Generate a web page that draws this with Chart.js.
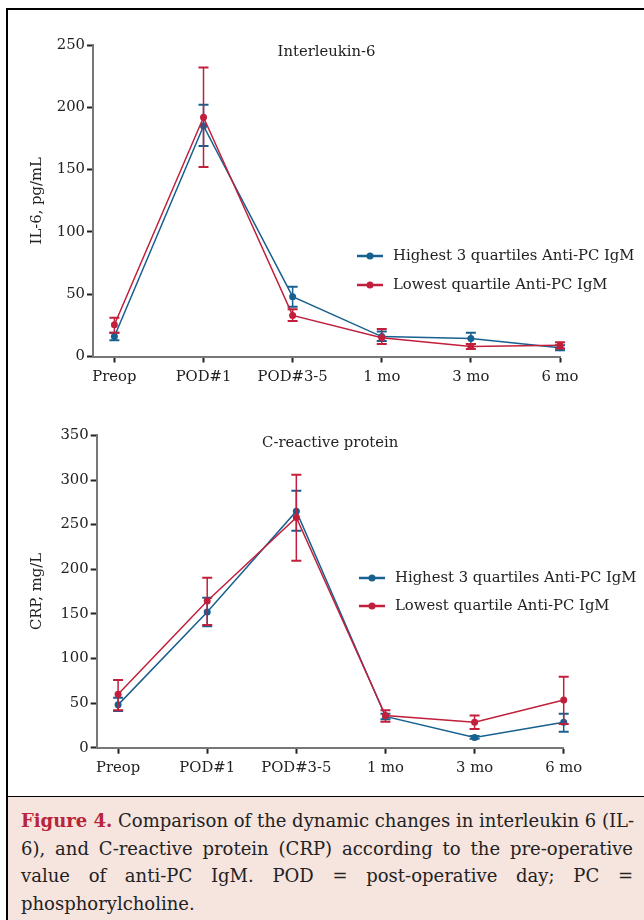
<!DOCTYPE html>
<html>
<head>
<meta charset="utf-8">
<script src="https://cdn.jsdelivr.net/npm/chart.js@4.4.0/dist/chart.umd.min.js"></script>
<style>
    html, body { margin: 0; padding: 0; background: #fff; overflow: hidden; }
    body { width: 644px; height: 920px; position: relative; }
    #frame {
        position: absolute; left: 6px; top: 8px; width: 660px; height: 786px;
        border: 2px solid #000;
    }
    canvas { position: absolute; left: 0; }
    #caption {
        position: absolute; left: 6px; top: 797px; width: 660px; height: 140px;
        background: #f6e4df; border-left: 2px solid #000;
        font-family: 'DejaVu Serif', serif; font-size: 18px; color: #222;
        line-height: 27.5px; box-sizing: border-box; padding: 10px 0 0 13px;
    }
    #caption .ln { display: block; width: 612px; text-align: justify; text-align-last: justify; white-space: nowrap; }
    #caption .ln.last { text-align-last: left; }
    #caption b { color: #b8243a; }
</style>
</head>
<body>
<div id="frame"></div>
<canvas id="il6" width="644" height="400" style="top:0"></canvas>
<canvas id="crp" width="644" height="395" style="top:400px"></canvas>
<div id="caption">
    <span class="ln"><b>Figure 4.</b> Comparison of the dynamic changes in interleukin 6 (IL-</span>
    <span class="ln">6), and C-reactive protein (CRP) according to the pre-operative</span>
    <span class="ln">value of anti-PC IgM. POD = post-operative day; PC =</span>
    <span class="ln last">phosphorylcholine.</span>
</div>
<script>
// time points
const labels = ['Preop', 'POD#1', 'POD#3-5', '1 mo', '3 mo', '6 mo'];
const seriesNames = ['Highest 3 quartiles Anti-PC IgM', 'Lowest quartile Anti-PC IgM'];

// IL-6, pg/mL (mean with lower / upper error)
const il6High = [16, 185, 48, 16, 14.5, 7];
const il6HighLo = [13, 169, 40, 12.5, 10, 5];
const il6HighHi = [19, 202, 56, 20, 19, 9];
const il6Low = [25.5, 192, 33, 15, 8, 9];
const il6LowLo = [19, 152, 28.5, 10, 6, 6.5];
const il6LowHi = [31, 232, 38, 22, 10, 11.5];

// CRP, mg/L
const crpHigh = [48, 152, 265, 35, 11.5, 28.5];
const crpHighLo = [41, 136, 243, 32, 10, 18];
const crpHighHi = [56, 168, 288, 38, 13, 38];
const crpLow = [60, 164.5, 258, 36, 28.5, 53.5];
const crpLowLo = [42, 137.5, 209.5, 29, 21, 26.5];
const crpLowHi = [76, 190.5, 306, 42, 36, 79.5];

const BLUE = '#17608f';
const RED = '#c11f3b';
const FONT = "'DejaVu Serif', serif";
const SIZE = 14.8;
const INK = '#222';

// error bars, panel title and inline legend
const decorations = {
    id: 'decorations',
    afterDatasetDraw(chart, args) {
        const ds = chart.data.datasets[args.index];
        const { x, y } = chart.scales;
        const ctx = chart.ctx;
        ctx.save();
        ctx.strokeStyle = ds.borderColor;
        ds.data.forEach((pt, i) => {
            const px = x.getPixelForValue(pt.x);
            const top = y.getPixelForValue(ds.errHi[i]);
            const bot = y.getPixelForValue(ds.errLo[i]);
            ctx.lineWidth = 1.5;
            ctx.beginPath();
            ctx.moveTo(px, top);
            ctx.lineTo(px, bot);
            ctx.stroke();
            ctx.lineWidth = 2;
            ctx.beginPath();
            ctx.moveTo(px - 5, top); ctx.lineTo(px + 5, top);
            ctx.moveTo(px - 5, bot); ctx.lineTo(px + 5, bot);
            ctx.stroke();
        });
        ctx.restore();
    },
    afterDraw(chart, args, opts) {
        const ctx = chart.ctx;
        const area = chart.chartArea;
        ctx.save();
        ctx.fillStyle = INK;
        ctx.font = SIZE + 'px ' + FONT;
        ctx.textAlign = 'center';
        ctx.textBaseline = 'middle';
        ctx.fillText(opts.title, (area.left + area.right) / 2, area.top + opts.titleDy);

        // legend keeps the dataset order of the figure (blue first)
        ctx.textAlign = 'left';
        const sets = chart.data.datasets.slice().sort((a, b) => b.order - a.order);
        sets.forEach((ds, i) => {
            const ly = opts.legendY + i * opts.legendGap;
            ctx.strokeStyle = ds.borderColor;
            ctx.fillStyle = ds.borderColor;
            ctx.lineWidth = 2.5;
            ctx.beginPath();
            ctx.moveTo(opts.legendX, ly);
            ctx.lineTo(opts.legendX + 26, ly);
            ctx.stroke();
            ctx.beginPath();
            ctx.arc(opts.legendX + 13, ly, 3.5, 0, Math.PI * 2);
            ctx.fill();
            ctx.fillStyle = INK;
            ctx.fillText(ds.label, opts.legendX + 36, ly);
        });
        ctx.restore();
    },
};

function series(label, values, lo, hi, color, order) {
    return {
        label,
        data: values.map((v, i) => ({ x: i, y: v })),
        errLo: lo,
        errHi: hi,
        order,
        clip: false,
        borderColor: color,
        backgroundColor: color,
        borderWidth: 1.5,
        pointRadius: 3.5,
        pointBorderWidth: 0,
        tension: 0,
    };
}

function makeChart(id, setup) {
    return new Chart(document.getElementById(id), {
        type: 'line',
        data: {
            datasets: [
                series(seriesNames[0], setup.high, setup.highLo, setup.highHi, BLUE, 1),
                series(seriesNames[1], setup.low, setup.lowLo, setup.lowHi, RED, 0),
            ],
        },
        options: {
            responsive: false,
            animation: false,
            layout: { padding: { left: 0, top: setup.top, right: setup.right, bottom: 0 } },
            plugins: {
                legend: { display: false },
                tooltip: { enabled: false },
                decorations: setup.deco,
            },
            scales: {
                x: {
                    type: 'linear',
                    min: -0.24,
                    max: labels.length - 1,
                    afterBuildTicks: (s) => { s.ticks = labels.map((_, i) => ({ value: i })); },
                    afterFit: (s) => { s.height = setup.xHeight; },
                    ticks: {
                        callback: (v) => labels[v],
                        color: INK,
                        font: { family: FONT, size: SIZE },
                        padding: 6,
                        maxRotation: 0,
                    },
                    grid: { drawOnChartArea: false, tickLength: 6, tickColor: INK, tickWidth: 2 },
                    border: { color: '#777', width: 2 },
                },
                y: {
                    min: 0,
                    max: setup.max,
                    afterFit: (s) => { s.width = setup.yWidth; },
                    ticks: {
                        stepSize: 50,
                        color: INK,
                        font: { family: FONT, size: SIZE },
                        padding: 2,
                    },
                    title: {
                        display: true,
                        text: setup.yTitle,
                        color: INK,
                        font: { family: FONT, size: SIZE },
                        padding: { top: 28, bottom: 0 },
                    },
                    grid: { drawOnChartArea: false, tickLength: 6, tickColor: INK, tickWidth: 2 },
                    border: { color: '#777', width: 2 },
                },
            },
        },
        plugins: [decorations],
    });
}

makeChart('il6', {
    high: il6High, highLo: il6HighLo, highHi: il6HighHi,
    low: il6Low, lowLo: il6LowLo, lowHi: il6LowHi,
    max: 250, yTitle: 'IL-6, pg/mL',
    top: 45, right: 84, yWidth: 93, xHeight: 43.5,
    deco: { title: 'Interleukin-6', titleDy: 7, legendX: 357, legendY: 256, legendGap: 29 },
});

makeChart('crp', {
    high: crpHigh, highLo: crpHighLo, highHi: crpHighHi,
    low: crpLow, lowLo: crpLowLo, lowHi: crpLowHi,
    max: 350, yTitle: 'CRP, mg/L',
    top: 35.4, right: 80.3, yWidth: 96.7, xHeight: 47.3,
    deco: { title: 'C-reactive protein', titleDy: 8, legendX: 359, legendY: 178, legendGap: 28 },
});
</script>
</body>
</html>
